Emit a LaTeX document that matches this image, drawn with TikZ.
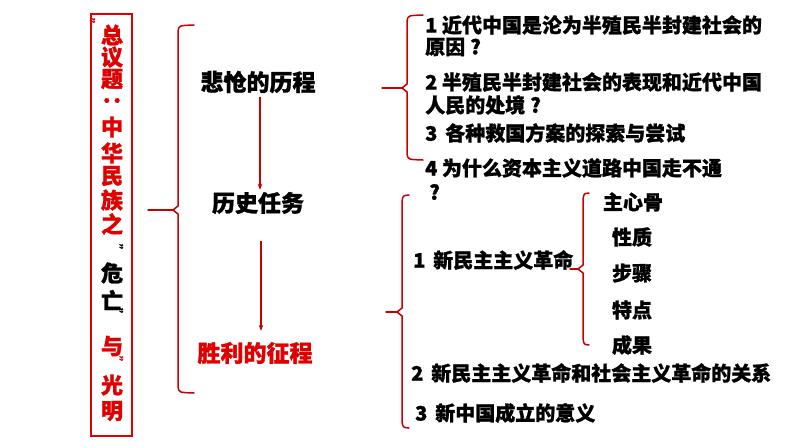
\documentclass[tikz,border=0pt]{standalone}
\usepackage{fontspec}
\setmainfont{Noto Sans CJK SC}[BoldFeatures={FakeBold=1.2}]
\usetikzlibrary{arrows.meta}
\definecolor{myred}{RGB}{225,0,0}
\definecolor{bred}{RGB}{200,0,0}
\tikzset{
  item/.style={font=\fontsize{20}{22}\selectfont\bfseries, anchor=west, inner sep=0pt},
  lab/.style={font=\fontsize{23}{25}\selectfont\bfseries, inner sep=1pt},
  tch/.style={font=\fontsize{22}{22}\selectfont\bfseries, text=myred, inner sep=0pt},
  tchk/.style={font=\fontsize{22}{22}\selectfont\bfseries, text=black, inner sep=0pt},
  qmark/.style={font=\fontsize{12}{12}\selectfont\bfseries, inner sep=0pt, rotate=-90},
  bracestyle/.style={draw=bred, line width=1.5pt, line join=round, line cap=round},
  arr/.style={draw=bred, line width=1.3pt, -{Stealth[length=6pt,width=4.5pt]}},
}
% x, top, bottom, mid, hook end x, tick start x, name
\newcommand\mybrace[7]{%
  \coordinate (#7tip) at ({#1-5},#4);
  \coordinate (#7in) at (#6,#4);
  \draw[bracestyle] (#5,#2) .. controls ({#1+1},{#2+0.5}) .. (#1,{#2+6})
     -- (#1,{#4-4}) -- (#7tip) -- (#1,{#4+4}) -- (#1,{#3-6})
     .. controls ({#1+1},{#3-0.5}) .. (#5,#3);
  \draw[bracestyle] (#7in) -- (#7tip);
}
\begin{document}
\begin{tikzpicture}[x=1pt,y=-1pt]
\useasboundingbox (0,0) rectangle (794,447);
\fill[white] (0,0) rectangle (794,447);

% title box
\node[draw=myred, line width=1.2pt, minimum width=41pt, minimum height=422pt, inner sep=0pt] (title) at (111.5,225) {};
\node[qmark, text=myred] (q0) at (90,24) {”};
\node[tch] (t1) at (112,35) {总};
\node[tch] (t2) at (112,57) {议};
\node[tch] (t3) at (112,79) {题};
\node[tch, rotate=-90] (t4) at (112,106) {：};
\node[tch] (t5) at (112,127) {中};
\node[tch] (t6) at (112,153) {华};
\node[tch] (t7) at (112,176) {民};
\node[tch] (t8) at (112,200) {族};
\node[tch] (t9) at (112,224) {之};
\node[qmark] (q1) at (118,250) {”};
\node[tchk] (t10) at (112,273) {危};
\node[tchk] (t11) at (112,300) {亡};
\node[qmark] (q2) at (118,314) {”};
\node[tch] (t12) at (112,346) {与};
\node[qmark, text=myred] (q3) at (118,362) {”};
\node[tch] (t13) at (112,385) {光};
\node[tch] (t14) at (112,411) {明};

% big brace
\mybrace{178}{25}{393}{210}{194}{148}{b1}

% middle labels
\node[lab] (l1) at (258,82) {悲怆的历程};
\node[lab] (l2) at (258,203) {历史任务};
\node[lab, text=myred] (l3) at (255,353) {胜利的征程};
\draw[arr, shorten <=3pt, shorten >=1pt] ([xshift=2pt]l1.south) -- ([xshift=2pt]l2.north);
\draw[arr, shorten <=26pt, shorten >=10pt] ([xshift=3pt]l2.south) -- ([xshift=6pt]l3.north);

% upper brace and items
\mybrace{407}{15}{160}{88}{423}{382}{b2}
\node[item] (a1) at (425,25) {1 近代中国是沦为半殖民半封建社会的};
\node[item] (a1b) at (425,47) {原因\kern5pt?};
\node[item] (a2) at (425,82) {2 半殖民半封建社会的表现和近代中国};
\node[item] (a2b) at (425,105) {人民的处境\kern5pt?};
\node[item] (a3) at (425,133) {3 \,各种救国方案的探索与尝试};
\node[item] (a4) at (425,168) {4 为什么资本主义道路中国走不通};
\node[item] (a4b) at (429,192) {?};

% lower brace and items
\mybrace{402}{195}{428}{312}{409}{386}{b3}
\node[item] (c1) at (413,260) {1 \,新民主主义革命};
\node[item] (c2) at (411,373) {2 \,新民主主义革命和社会主义革命的关系};
\node[item] (c3) at (415,413) {3 \,新中国成立的意义};

% sub brace
\mybrace{583}{193}{345}{269}{589}{570}{b4}
\node[item, anchor=center] (d1) at (633,202) {主心骨};
\node[item, anchor=center] (d2) at (632,237) {性质};
\node[item, anchor=center] (d3) at (632,273) {步骤};
\node[item, anchor=center] (d4) at (632,310) {特点};
\node[item, anchor=center] (d5) at (632,345) {成果};
\end{tikzpicture}
\end{document}
